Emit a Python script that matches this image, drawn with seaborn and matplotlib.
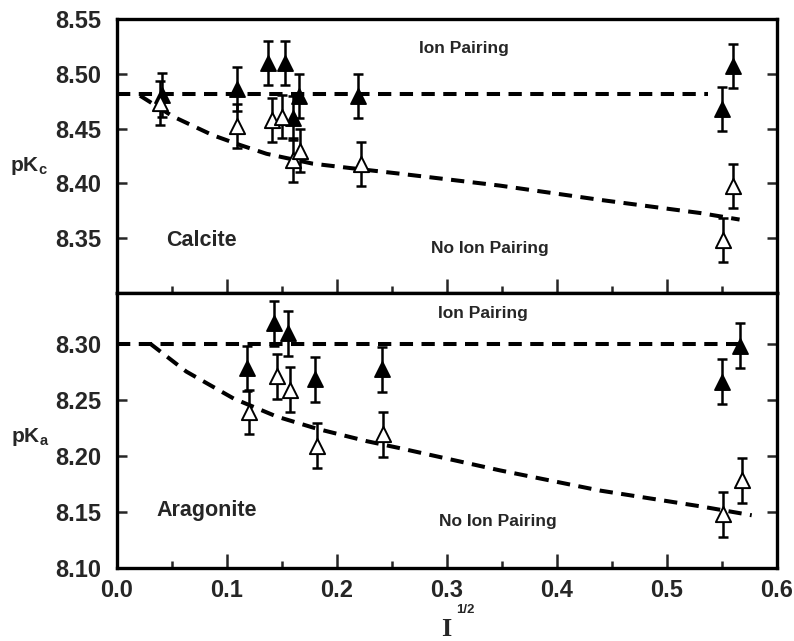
import matplotlib
matplotlib.use("Agg")
import matplotlib.pyplot as plt
import seaborn as sns
import numpy as np
import pandas as pd
from matplotlib.ticker import MultipleLocator

# ---- data ----
calc_x_ip = [0.041, 0.109, 0.137, 0.153, 0.160, 0.165, 0.219, 0.550, 0.560]
calc_y_ip = [8.481, 8.486, 8.510, 8.510, 8.460, 8.480, 8.480, 8.468, 8.507]
calc_x_nip = [0.039, 0.109, 0.141, 0.150, 0.160, 0.166, 0.222, 0.551, 0.560]
calc_y_nip = [8.473, 8.452, 8.458, 8.461, 8.421, 8.430, 8.418, 8.348, 8.398]

arag_x_ip = [0.118, 0.143, 0.155, 0.180, 0.241, 0.550, 0.566]
arag_y_ip = [8.278, 8.318, 8.309, 8.268, 8.277, 8.266, 8.298]
arag_x_nip = [0.120, 0.145, 0.157, 0.182, 0.242, 0.551, 0.568]
arag_y_nip = [8.239, 8.271, 8.259, 8.209, 8.219, 8.148, 8.178]

err = 0.02

calc_line_ip_x = [0.0, 0.537]
calc_line_ip_y = [8.482, 8.482]
calc_curve_x = [0.021, 0.051, 0.087, 0.112, 0.136, 0.178, 0.212, 0.256, 0.348, 0.439, 0.530, 0.566]
calc_curve_y = [8.480, 8.461, 8.444, 8.435, 8.427, 8.418, 8.414, 8.409, 8.398, 8.385, 8.373, 8.367]

arag_line_ip_x = [0.0, 0.565]
arag_line_ip_y = [8.300, 8.300]
arag_curve_x = [0.030, 0.063, 0.106, 0.145, 0.182, 0.227, 0.256, 0.348, 0.439, 0.530, 0.577]
arag_curve_y = [8.300, 8.275, 8.251, 8.235, 8.224, 8.213, 8.207, 8.187, 8.169, 8.155, 8.147]

calc_yticks = [8.35, 8.40, 8.45, 8.50, 8.55]
arag_yticks = [8.10, 8.15, 8.20, 8.25, 8.30]
x_ticks = [0.0, 0.1, 0.2, 0.3, 0.4, 0.5, 0.6]

sns.set_theme(style="white")
plt.rcParams['font.family'] = ['Liberation Sans', 'DejaVu Sans']
plt.rcParams['font.weight'] = 'bold'
plt.rcParams['mathtext.fontset'] = 'custom'
plt.rcParams['mathtext.rm'] = 'Liberation Sans:bold'
plt.rcParams['mathtext.it'] = 'Liberation Sans:bold'
plt.rcParams['mathtext.bf'] = 'Liberation Sans:bold'
plt.rcParams['lines.scale_dashes'] = True

fig = plt.figure(figsize=(7.94, 6.41), dpi=100)
L, R = 117/794, 777/794
top_t, mid, bot_b = 1 - 19/641, 1 - 293/641, 1 - 568/641
ax1 = fig.add_axes([L, mid, R - L, top_t - mid])
ax2 = fig.add_axes([L, bot_b, R - L, mid - bot_b])

dash = (3.3, 2.1)
LW = 2.9

def draw(ax, xi, yi, xn, yn, lx, ly, cx, cy):
    sns.lineplot(x=lx, y=ly, ax=ax, color='black', linewidth=LW,
                 zorder=2, legend=False)
    sns.lineplot(x=cx, y=cy, ax=ax, color='black', linewidth=LW,
                 zorder=2, legend=False, sort=True)
    for ln in ax.get_lines():
        ln.set_linestyle((0, dash))
        ln.set_linewidth(LW)
    for xs, ys in ((xi, yi), (xn, yn)):
        ax.errorbar(xs, ys, yerr=err, fmt='none', ecolor='black', elinewidth=1.8,
                    capsize=3.5, capthick=1.8, zorder=3)
    sns.scatterplot(x=xi, y=yi, ax=ax, marker='^', s=120, color='black',
                    edgecolor='black', linewidth=1.2, zorder=4, legend=False)
    sns.scatterplot(x=xn, y=yn, ax=ax, marker='^', s=120, color='white',
                    edgecolor='black', linewidth=1.4, zorder=4, legend=False)

draw(ax1, calc_x_ip, calc_y_ip, calc_x_nip, calc_y_nip,
     calc_line_ip_x, calc_line_ip_y, calc_curve_x, calc_curve_y)
draw(ax2, arag_x_ip, arag_y_ip, arag_x_nip, arag_y_nip,
     arag_line_ip_x, arag_line_ip_y, arag_curve_x, arag_curve_y)

ax1.set_ylim(8.30, 8.55)
ax2.set_ylim(8.10, 8.345)
for ax in (ax1, ax2):
    ax.set_xlim(0.0, 0.6)
    ax.set_xticks(x_ticks)
    ax.xaxis.set_minor_locator(MultipleLocator(0.05))
    for s in ax.spines.values():
        s.set_linewidth(2.4)
        s.set_color('black')
    ax.tick_params(axis='x', which='major', direction='in', length=10, width=1.8,
                   top=False, bottom=True, labelsize=17, pad=8)
    ax.tick_params(axis='x', which='minor', direction='in', length=5, width=1.8,
                   top=False, bottom=True)
    ax.tick_params(axis='y', which='major', direction='in', length=7, width=1.8,
                   left=True, right=True, labelsize=17, pad=11)
    ax.set_xlabel('')
    ax.set_ylabel('')
    ax.grid(False)

ax1.set_yticks(calc_yticks)
ax1.set_yticklabels([f"{v:.2f}" for v in calc_yticks])
ax1.tick_params(axis='x', labelbottom=False)
ax2.set_yticks(arag_yticks)
ax2.set_yticklabels([f"{v:.2f}" for v in arag_yticks])
ax2.set_xticklabels([f"{v:.1f}" for v in x_ticks])

# annotations
ax1.text(0.315, 8.523, 'Ion Pairing', ha='center', va='center', fontsize=12.5, fontweight='bold')
ax1.text(0.339, 8.341, 'No Ion Pairing', ha='center', va='center', fontsize=12.5, fontweight='bold')
ax1.text(0.045, 8.348, 'Calcite', ha='left', va='center', fontsize=15.5, fontweight='bold')
ax2.text(0.333, 8.327, 'Ion Pairing', ha='center', va='center', fontsize=12.5, fontweight='bold')
ax2.text(0.346, 8.141, 'No Ion Pairing', ha='center', va='center', fontsize=12.5, fontweight='bold')
ax2.text(0.036, 8.151, 'Aragonite', ha='left', va='center', fontsize=15.5, fontweight='bold')

fig.text(10/794, 1 - 166/641, r'pK$_{c}$', ha='left', va='center', fontsize=15, fontweight='bold')
fig.text(11/794, 1 - 437/641, r'pK$_{a}$', ha='left', va='center', fontsize=15, fontweight='bold')

fig.text(446/794, 1 - 630/641, 'I', ha='center', va='center', fontsize=19,
         fontweight='bold', family=['Liberation Serif', 'DejaVu Serif'])
fig.text(456/794, 1 - 610/641, '1/2', ha='left', va='center', fontsize=9.5, fontweight='bold')

fig.savefig('out.png', dpi=100)
